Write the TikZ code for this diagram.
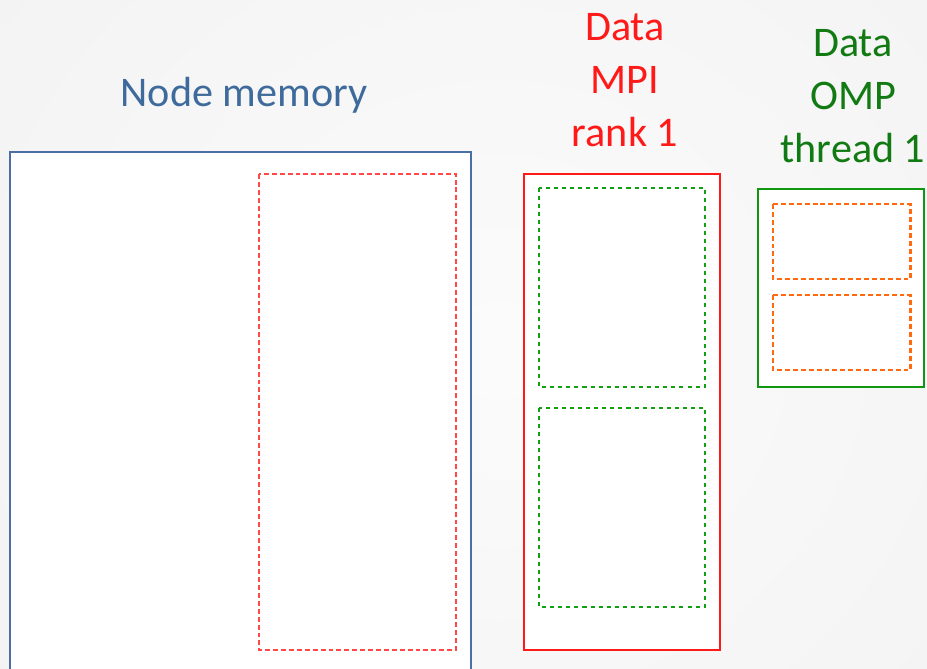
\documentclass[tikz,border=0pt]{standalone}
\usepackage{fontspec}
\setmainfont{Carlito}
\usetikzlibrary{positioning}

\definecolor{nodeblue}{HTML}{4A6FA5}
\definecolor{nodetext}{HTML}{3E6B9B}
\definecolor{mpired}{HTML}{FF1A1A}
\definecolor{ompgreen}{HTML}{127A12}
\definecolor{ompbox}{HTML}{119611}
\definecolor{dotgreen}{HTML}{10A010}
\definecolor{throrange}{HTML}{FF6A10}

\tikzset{
  labeltext/.style={font=\fontsize{24}{30}\selectfont, align=center},
  membox/.style={draw=nodeblue, line width=0.8pt, fill=white},
  rankdash/.style={draw=mpired!80, line width=0.7pt, dash pattern=on 2.8pt off 1.7pt},
  rankbox/.style={draw=mpired, line width=0.8pt, fill=white},
  threaddash/.style={draw=dotgreen, line width=1.7pt, dash pattern=on 2.3pt off 2.3pt},
  threadbox/.style={draw=ompbox, line width=1.3pt, fill=white},
  chunkdash/.style={draw=throrange, line width=1.7pt, dash pattern=on 2.8pt off 1.7pt}
}

\begin{document}
\begin{tikzpicture}[x=0.02cm, y=-0.02cm]
  \clip (0,0) rectangle (927,669);
  \shade[inner color=gray!3, outer color=gray!11] (-300,-400) rectangle (1300,1100);

  % labels
  \node[labeltext, text=nodetext] (memlabel) at (244,95) {Node memory};
  \node[labeltext, text=mpired] (mpilabel) at (625,80) {Data\\MPI\\rank 1};
  \node[labeltext, text=ompgreen] (omplabel) at (853,96) {Data\\OMP\\thread 1};

  % node memory with the part of rank 1
  \draw[membox] (10,152) rectangle (471,690);
  \draw[rankdash] (259,174) rectangle (456,650);

  % data of MPI rank 1, split over the threads
  \draw[rankbox] (524,174) rectangle (720,650);
  \foreach \y in {188,408}
    {
      \draw[threaddash] (539,\y) rectangle (705,\y+199);
    }

  % data of OMP thread 1
  \draw[threadbox] (758,189) rectangle (924,387);
  \foreach \y in {204,295}
    {
      \draw[chunkdash] (773,\y) rectangle (910,\y+75);
    }
\end{tikzpicture}
\end{document}
